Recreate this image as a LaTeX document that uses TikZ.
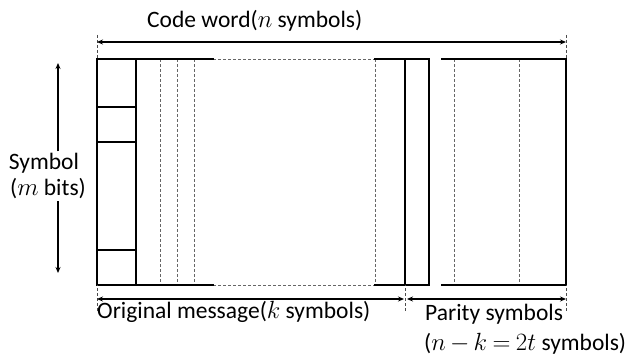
\documentclass[tikz,border=0pt]{standalone}
\usepackage{fontspec}
\setmainfont{Carlito}
\usetikzlibrary{arrows.meta}
\begin{document}
\begin{tikzpicture}[x=1pt,y=-1pt,
  solidline/.style={line width=1.6pt, line cap=rect},
  dashline/.style={dash pattern=on 3pt off 2pt, line width=0.7pt, black!60},
  dimarrow/.style={line width=1.1pt, {Stealth[length=6pt,width=5pt]}-{Stealth[length=6pt,width=5pt]}},
  onearrow/.style={line width=1.1pt, -{Stealth[length=6pt,width=5pt]}},
  extline/.style={dash pattern=on 3pt off 2pt, line width=0.6pt, black!70},
  lbl/.style={font=\fontsize{23.5}{26}\selectfont, inner sep=0pt}]
\useasboundingbox (0,0) rectangle (627,358);

% dashed inner lines
\foreach \x in {160,177,194,375,454,519}
  \draw[dashline] (\x,59) -- (\x,285);
\draw[dashline] (213,59) -- (375,59);
\draw[dashline] (213,285) -- (375,285);

% solid frame parts
\draw[solidline] (213,59) -- (97,59) -- (97,285) -- (213,285);
\draw[solidline] (136,59) -- (136,285);
\foreach \y in {107,142,250}
  \draw[solidline] (97,\y) -- (136,\y);
\draw[solidline] (375,59) -- (429,59) -- (429,285) -- (375,285);
\draw[solidline] (405,59) -- (405,285);
\draw[solidline] (442,59) -- (566,59) -- (566,285) -- (442,285);

% extension lines
\coordinate (tl) at (97,35);
\coordinate (tr) at (566,35);
\coordinate (bl) at (97,311);
\coordinate (bm) at (405,311);
\coordinate (br) at (566,311);
\draw[extline] (tl) -- (97,59);
\draw[extline] (tr) -- (566,59);
\draw[extline] (bl) -- (97,285);
\draw[extline] (bm) -- (405,285);
\draw[extline] (br) -- (566,285);

% dimension arrows
\coordinate (a1) at (97,42);
\coordinate (a2) at (566,42);
\draw[dimarrow] (a1) -- (a2);
\coordinate (b1) at (97,299);
\coordinate (b2) at (404,299);
\coordinate (b3) at (407,299);
\coordinate (b4) at (566,299);
\draw[dimarrow] (b1) -- (b2);
\draw[dimarrow] (b3) -- (b4);

% labels
\node[lbl, anchor=base west] (cw) at (147,28) {Code word($n$ symbols)};
\node[lbl, anchor=base] (sym1) at (44,170) {Symbol};
\node[lbl, anchor=base] (sym2) at (48,196) {($m$ bits)};
\coordinate (vtop) at (58,63);
\coordinate (vbot) at (58,273);
\draw[onearrow] (sym1.north -| vtop) ++(0,-2) -- (vtop);
\draw[onearrow] (sym2.south -| vbot) ++(0,2) -- (vbot);
\node[lbl, anchor=base west] (om) at (97,319) {Original message($k$ symbols)};
\node[lbl, anchor=base west] (ps) at (425,320) {Parity symbols};
\node[lbl, anchor=base west] (ps2) at (424,350)
  {\medmuskip=3mu\thickmuskip=4mu($n-k=2t$ symbols)};
\end{tikzpicture}
\end{document}
